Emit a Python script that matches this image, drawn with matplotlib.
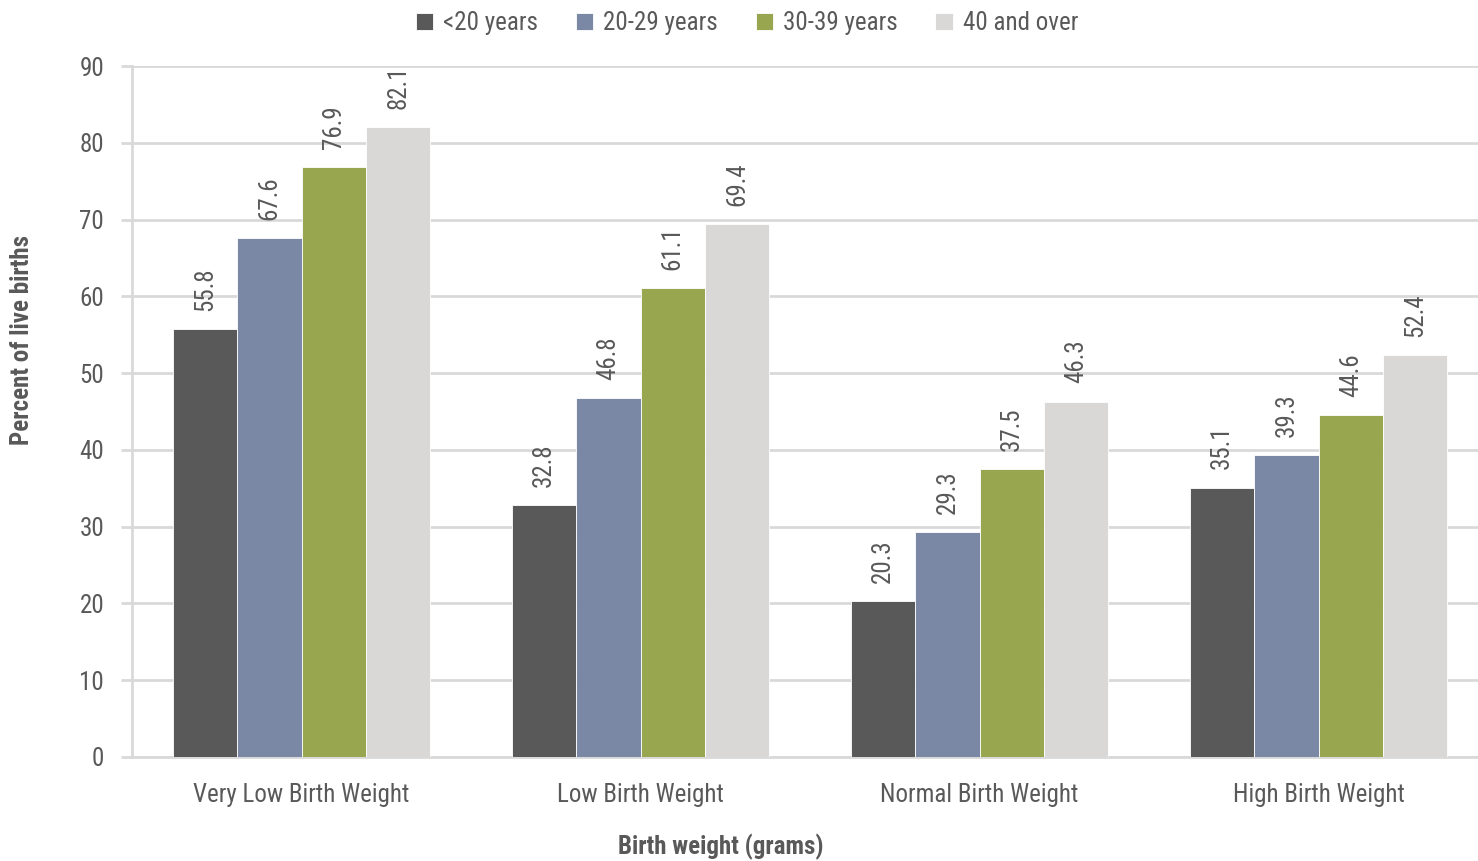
import matplotlib
matplotlib.use("Agg")
import matplotlib.pyplot as plt
from matplotlib import font_manager as fm
import numpy as np

categories = ["Very Low Birth Weight", "Low Birth Weight", "Normal Birth Weight", "High Birth Weight"]
series_names = ["<20 years", "20-29 years", "30-39 years", "40 and over"]
under20 = [55.8, 32.8, 20.3, 35.1]
age20_29 = [67.6, 46.8, 29.3, 39.3]
age30_39 = [76.9, 61.1, 37.5, 44.6]
age40plus = [82.1, 69.4, 46.3, 52.4]
yticks = [0, 10, 20, 30, 40, 50, 60, 70, 80, 90]

colors = ["#595959", "#7A88A6", "#97A64F", "#D9D8D6"]
series = [under20, age20_29, age30_39, age40plus]

names = {f.name for f in fm.fontManager.ttflist}
fam = None
for cand in ["Roboto Condensed", "Liberation Sans Narrow", "DejaVu Sans Condensed"]:
    if cand in names:
        fam = cand
        break
if fam is None:
    fam = "DejaVu Sans"
plt.rcParams['font.family'] = [fam, "DejaVu Sans"]

txt = "#595959"
fig = plt.figure(figsize=(14.78, 8.61), dpi=100)
ax = fig.add_axes([132/1478, 1-757/861, 1-132/1478, (757-66)/861])

x = np.arange(len(categories))
w = 0.19
for i, (vals, c, n) in enumerate(zip(series, colors, series_names)):
    pos = x + (i - 1.5) * w
    ax.bar(pos, vals, width=w, color=c, edgecolor="white", linewidth=0.6, label=n, zorder=3)
    for xp, v in zip(pos, vals):
        ax.annotate(f"{v:.1f}", (xp, v), xytext=(0, 13), textcoords="offset points",
                    rotation=90, ha="center", va="bottom", fontsize=18, color=txt)

ax.set_xlim(-0.5, 3.47)
ax.set_ylim(0, 90)
ax.set_yticks(yticks)
ax.set_yticklabels([str(t) for t in yticks], fontsize=18, color=txt)
ax.set_xticks(x)
ax.set_xticklabels(categories, fontsize=18, color=txt)
ax.tick_params(axis="y", length=8, width=2, color="#D9D9D9", pad=12)
ax.tick_params(axis="x", length=0, pad=19)
ax.yaxis.grid(True, color="#D9D9D9", linewidth=2, zorder=0)
ax.set_axisbelow(True)
for s in ["top", "right"]:
    ax.spines[s].set_visible(False)
for s in ["left", "bottom"]:
    ax.spines[s].set_color("#D9D9D9")
    ax.spines[s].set_linewidth(2)

ax.set_ylabel("Percent of live births", fontsize=18, fontweight="bold", color=txt)
ax.yaxis.set_label_coords((22-132)/1346, (757-340)/691)
ax.yaxis.label.set_va("center")
ax.set_xlabel("Birth weight (grams)", fontsize=18, fontweight="bold", color=txt)
ax.xaxis.set_label_coords((721-132)/1346, -(847-757)/691)
ax.xaxis.label.set_va("center")

leg = fig.legend(loc="center", bbox_to_anchor=(747/1478, 1-23/861), ncol=4, frameon=False,
                 fontsize=18, handlelength=0.7, handleheight=0.7, handletextpad=0.4, columnspacing=1.5)
for t in leg.get_texts():
    t.set_color(txt)

fig.savefig("out.png", dpi=100)
